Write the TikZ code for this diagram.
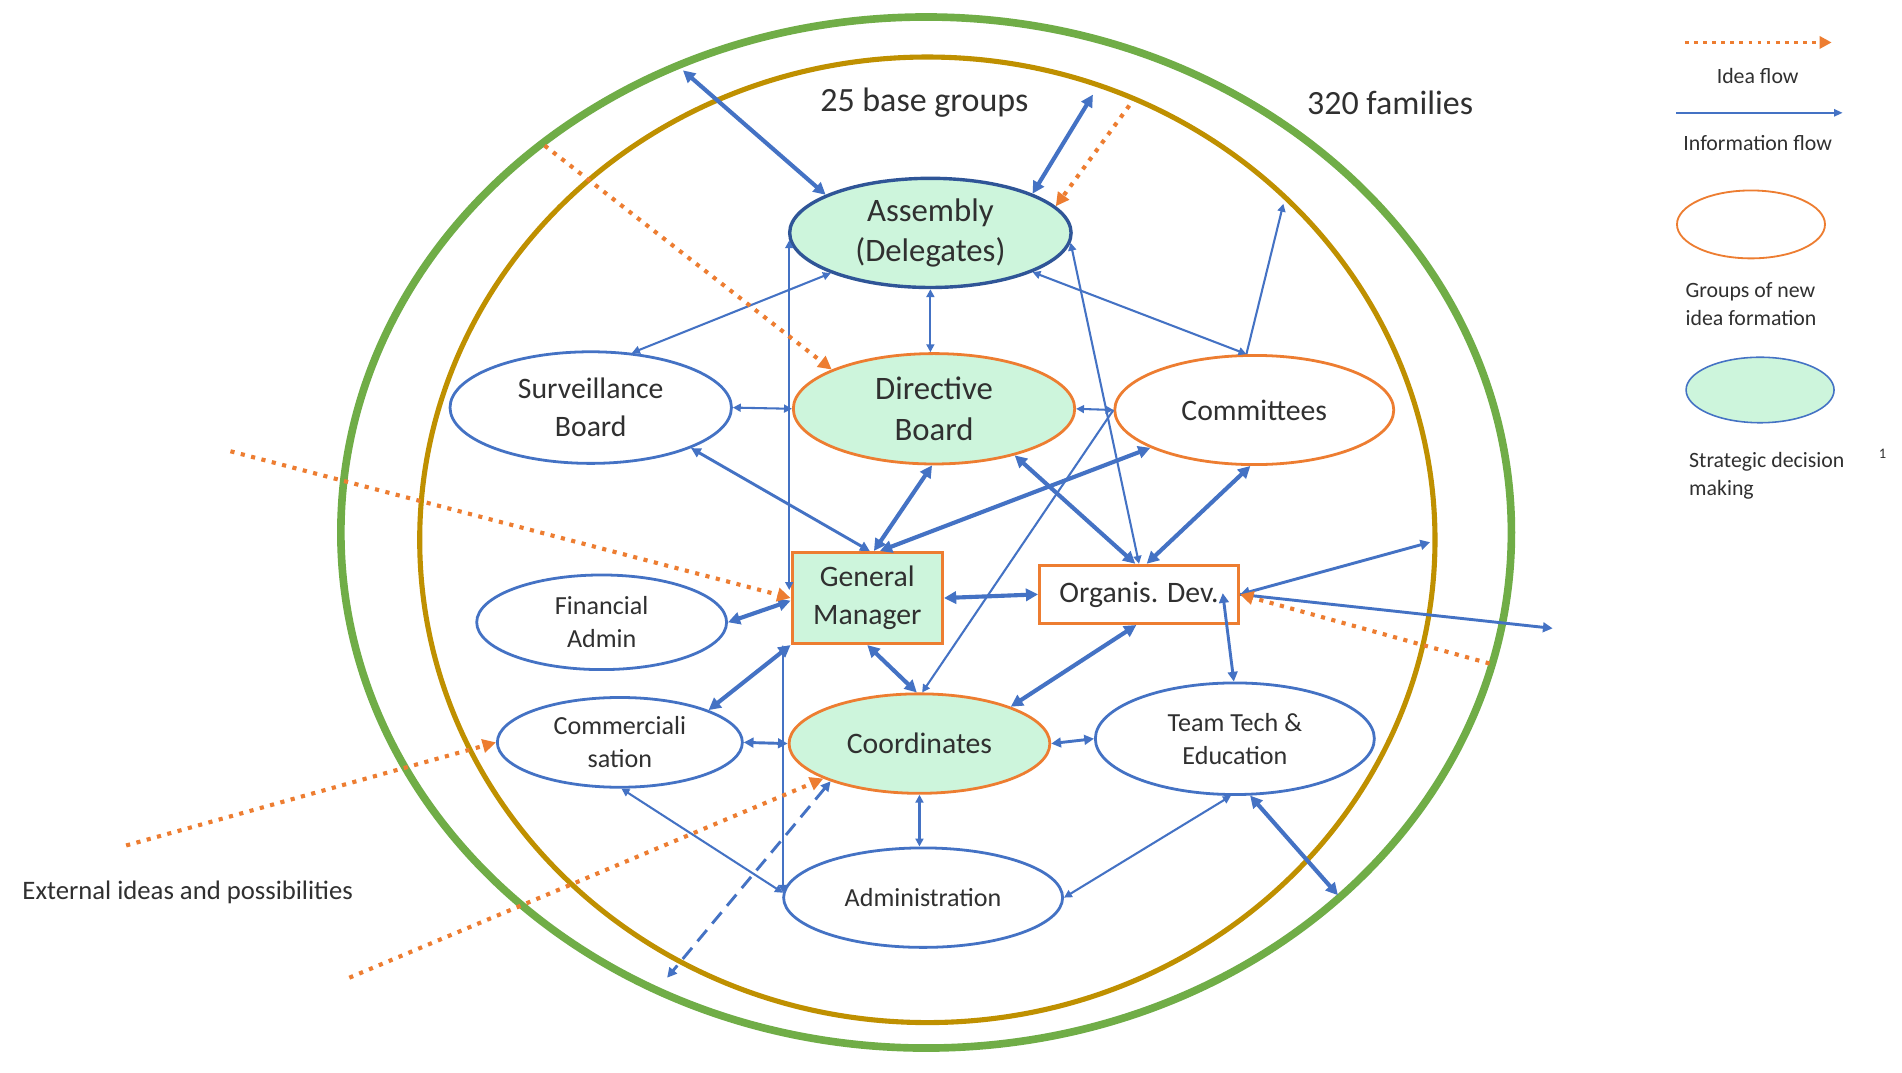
\documentclass[tikz,border=0pt]{standalone}
\usepackage{fontspec}
\setmainfont{Carlito}
\usetikzlibrary{shapes.geometric,arrows.meta}
\definecolor{cblue}{HTML}{4472C4}
\definecolor{cdblue}{HTML}{2F5597}
\definecolor{corange}{HTML}{ED7D31}
\definecolor{cgreen}{HTML}{70AD47}
\definecolor{cgold}{HTML}{BF9000}
\definecolor{cmint}{HTML}{CDF5DC}
\definecolor{ctext}{HTML}{303030}
\tikzset{
  TB/.tip={Triangle[length=10pt,width=10pt]},
  TM/.tip={Triangle[length=8pt,width=8pt]},
  TS/.tip={Triangle[length=6.5pt,width=6.5pt]},
  TO/.tip={Triangle[length=11pt,width=11pt]},
  ell/.style={ellipse, draw=cblue, line width=2.3pt, fill=white, inner sep=0pt},
  rbox/.style={rectangle, draw=corange, line width=2.5pt, inner sep=0pt},
  fat/.style={cblue, line width=3.4pt},
  mid/.style={cblue, line width=2.4pt},
  thn/.style={cblue, line width=1.7pt},
  idea/.style={corange, line width=3.4pt, dash pattern=on 3.4pt off 5.4pt, -TO},
  dsh/.style={dash pattern=on 12pt off 7pt},
  fA/.style={font=\fontsize{27}{33}\selectfont},
  fB/.style={font=\fontsize{24.5}{31}\selectfont},
  fC/.style={font=\fontsize{21.5}{27}\selectfont},
  fL/.style={font=\fontsize{18}{23}\selectfont},
}
\begin{document}
\begin{tikzpicture}[x=1pt,y=-1pt, every node/.style={text=ctext, align=center}]
\fill[white] (0,0) rectangle (1568,884);
\useasboundingbox (0,0) rectangle (1568,884);

% rings
\draw[cgreen, line width=6.3pt] (763.5,439) ellipse [x radius=482.5pt, y radius=425pt];
\draw[cgold, line width=4.2pt] (764.5,445) ellipse [x radius=418.5pt, y radius=398pt];

% labels
\node[font=\fontsize{28}{33}\selectfont] (lbg) at (762,85) {25 base groups};
\node[font=\fontsize{28}{33}\selectfont] (lfam) at (1146,85) {320 families};
\node[anchor=west, font=\fontsize{22}{26}\selectfont] (lext) at (15,736) {External ideas and possibilities};

% nodes
\node[ell, draw=cdblue, line width=2.8pt, fill=cmint, minimum width=232pt, minimum height=90pt, fA] (asm) at (767,192) {Assembly\\(Delegates)};
\node[ell, draw=corange, fill=cmint, minimum width=232pt, minimum height=91pt, fA] (dir) at (770,337) {Directive\\Board};
\node[ell, minimum width=232pt, minimum height=92pt, fB] (sur) at (487,336) {Surveillance\\Board};
\node[ell, draw=corange, minimum width=230pt, minimum height=90pt, fB] (com) at (1034,338) {Committees};
\node[ell, minimum width=206pt, minimum height=78pt, fC] (fin) at (496,513) {Financial\\Admin};
\node[rbox, fill=cmint, minimum width=124pt, minimum height=75pt, fB] (gm) at (715,493) {General\\Manager};
\node[rbox, fill=white, minimum width=164pt, minimum height=48pt, fB] (od) at (939,490) {Organis. Dev.};
\node[ell, minimum width=202pt, minimum height=74pt, fC] (cms) at (511,612) {Commerciali\\sation};
\node[ell, draw=corange, fill=cmint, minimum width=215pt, minimum height=82pt, fB] (crd) at (758,613) {Coordinates};
\node[ell, minimum width=230pt, minimum height=92pt, fC] (tte) at (1018,609) {Team Tech \&\\Education};
\node[ell, minimum width=230pt, minimum height=82pt, fC] (adm) at (761,740) {Administration};

% free ends
\coordinate (f1) at (563,58);
\coordinate (f2) at (901,78);
\coordinate (f3) at (1058,168);
\coordinate (f4) at (1103,738);
\coordinate (f5) at (550,806);
\coordinate (f6) at (1179,447);
\coordinate (f7) at (1280,518);
\coordinate (odin) at (1008,489);
\coordinate (o1) at (931,87);
\coordinate (o2) at (449,120);
\coordinate (o3) at (288,806);
\coordinate (o4) at (104,697);
\coordinate (o5) at (190,372);
\coordinate (o6) at (1228,547);

% thin connectors
\draw[thn, TS-TS] (asm.south) -- (asm.south |- dir.north);
\draw[thn, TS-TS] (sur.53) -- (asm.202);
\draw[thn, TS-TS] (com.98) -- (asm.339);
\draw[thn, -TS] (com.98) -- (f3);
\draw[thn, TS-TS] (sur.east) -- (dir.west);
\draw[thn, TS-TS] (com.west) -- (dir.east);
\draw[thn, TS-TS] (asm.183) -- (asm.183 |- gm.174);
\draw[thn, TS-TS] (adm.178) -- (adm.178 |- gm.south west);
\draw[thn, TS-TS] (asm.356) -- (od.north);
\draw[thn, -TS] (com.west) -- (crd.87);
\draw[thn, TS-TS] (crd.south) -- (crd.south |- adm.north);
\draw[thn, TS-TS] (adm.178) -- (cms.272);
\draw[thn, TS-TS] (adm.east) -- (tte.266);

% thick connectors
\draw[fat, TB-TB] (asm.160) -- (f1);
\draw[fat, TB-TB] (asm.21) -- (f2);
\draw[fat, TB-TB] (gm.82) -- (dir.268);
\draw[fat, TB-TB] (gm.75) -- (com.200);
\draw[fat, TB-TB] (dir.330) -- (od.97);
\draw[fat, TB-TB] (com.266) -- (od.76);
\draw[fat, TB-TB] (gm.east) -- (od.west);
\draw[fat, TB-TB] (gm.182) -- (fin.east);
\draw[fat, TB-TB] (gm.south west) -- (cms.20);
\draw[fat, TB-TB] (gm.south) -- (crd.93);
\draw[fat, TB-TB] (od.265) -- (crd.22);
\draw[fat, TB-TB] (tte.285) -- (f4);

% medium connectors
\draw[mid, TM-TM] (sur.338) -- (gm.87);
\draw[mid, TM-TM] (cms.east) -- (crd.west);
\draw[mid, TM-TM] (crd.east) -- (tte.west);
\draw[mid, TM-TM] (odin) -- (tte.91);
\draw[mid, TM-TM] (od.east) -- (f6);
\draw[mid, -TM] (od.east) -- (f7);
\draw[mid, dsh, TM-TM] (crd.203) -- (f5);

% idea flows
\draw[idea] (o1) -- (asm.12);
\draw[idea] (o2) -- (dir.159);
\draw[idea] (o3) -- (crd.200);
\draw[idea] (o4) -- (cms.west);
\draw[idea] (o5) -- (gm.west);
\draw[idea] (o6) -- (od.east);

% legend
\coordinate (li1) at (1389,35);
\coordinate (li2) at (1510,35);
\coordinate (lf1) at (1382,93);
\coordinate (lf2) at (1519,93);
\draw[idea, line width=3pt, dash pattern=on 3pt off 4.5pt, -{Triangle[length=10pt,width=10pt]}] (li1) -- (li2);
\node[fL] (tidea) at (1449,63) {Idea flow};
\draw[thn, line width=1.4pt, -{Triangle[length=7pt,width=6pt]}] (lf1) -- (lf2);
\node[fL] (tinfo) at (1449,118) {Information flow};
\node[ellipse, draw=corange, line width=1.5pt, minimum width=122pt, minimum height=56pt] (legor) at (1443.5,185) {};
\node[fL, anchor=west, align=left] (tgroups) at (1386,250.5) {Groups of new\\idea formation};
\node[ellipse, draw=cblue, line width=1.3pt, fill=cmint, minimum width=122pt, minimum height=54pt] (leggr) at (1451,321.5) {};
\node[fL, anchor=west, align=left] (tstrat) at (1389,392) {Strategic decision\\making};
\node[font=\fontsize{12}{14}\selectfont] (tone) at (1552,374) {1};
\end{tikzpicture}
\end{document}
